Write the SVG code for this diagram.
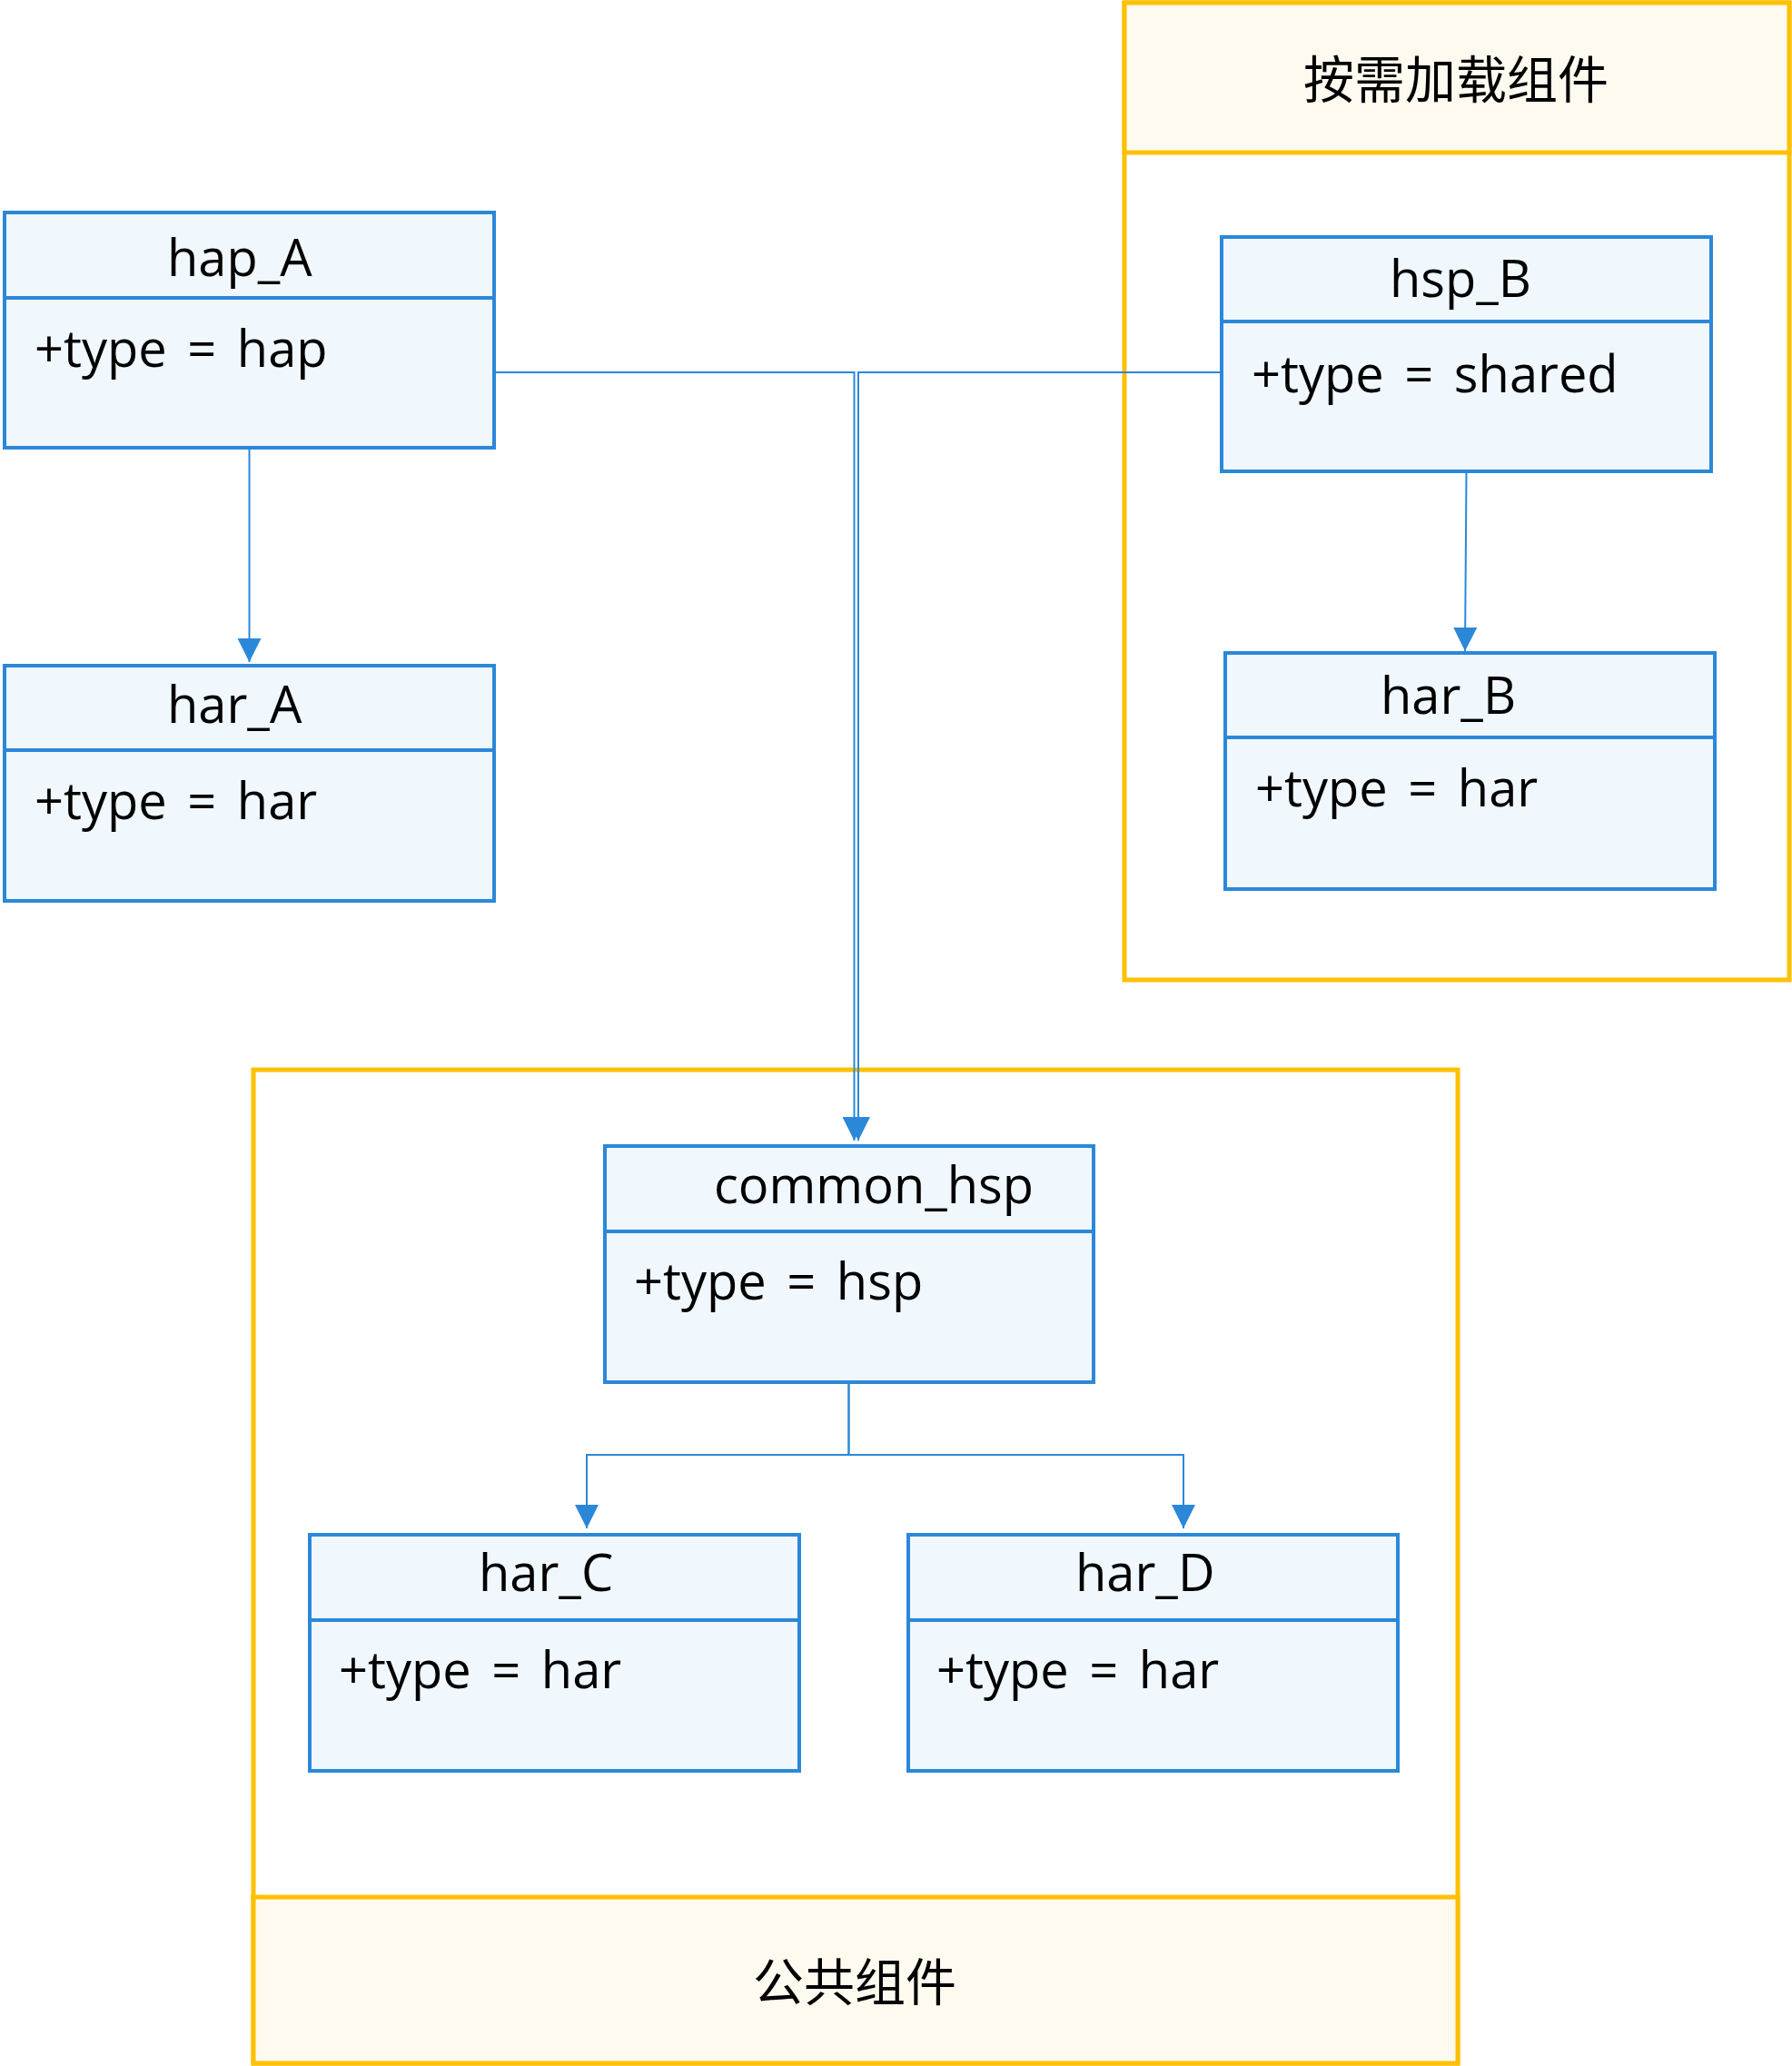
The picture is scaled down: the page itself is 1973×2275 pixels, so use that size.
<svg xmlns="http://www.w3.org/2000/svg" width="1973" height="2275" viewBox="0 0 1973 2275">
<style>
.cont{fill:#ffffff;stroke:#ffc000;stroke-width:5}
.band{fill:#fffaef;stroke:#ffc000;stroke-width:5}
.box{fill:#f0f8fe;stroke:#2b88d9;stroke-width:4}
.div{stroke:#2b88d9;stroke-width:4}
.con{fill:none;stroke:#2b88d9;stroke-width:2}
.t{font-family:"Open Sans","Noto Sans","Noto Sans CJK SC",sans-serif;font-size:56px;fill:#000}
.a{word-spacing:8px}
.cjk{font-family:"Noto Sans CJK SC","Noto Sans",sans-serif;font-size:56px;fill:#000;text-anchor:middle;dominant-baseline:central}
</style>
<defs>
<marker id="arr" markerUnits="userSpaceOnUse" markerWidth="27" markerHeight="27" refX="26" refY="13" orient="auto" viewBox="0 0 27 27">
<path d="M0,0 L26,13 L0,26 z" fill="#2b88d9"/>
</marker>
</defs>

<g id="container-ondemand">
<rect class="cont" x="1238" y="3" width="732" height="1076"/>
<rect class="band" x="1238" y="3" width="732" height="165"/>
<text class="cjk" x="1603" y="83">按需加载组件</text>
</g>

<g id="container-common">
<rect class="cont" x="279" y="1178" width="1326" height="1094"/>
<rect class="band" x="279" y="2089" width="1326" height="183"/>
<text class="cjk" x="941" y="2178">公共组件</text>
</g>

<g id="connectors">
<path class="con" d="M544,410 H940.5 V1256" marker-end="url(#arr)"/>
<path class="con" d="M1345,410 H945 V1256" marker-end="url(#arr)"/>
<path class="con" d="M274.5,493 V729" marker-end="url(#arr)"/>
<path class="con" d="M1614.5,519 L1613,717" marker-end="url(#arr)"/>
<path class="con" d="M934.5,1522 V1602 H646 V1683" marker-end="url(#arr)"/>
<path class="con" d="M934.5,1522 V1602 H1303 V1683" marker-end="url(#arr)"/>
</g>

<g id="hap_A">
<rect class="box" x="5" y="234" width="539" height="259"/>
<line class="div" x1="5" y1="328" x2="544" y2="328"/>
<text class="t" x="184" y="304">hap_A</text>
<text class="t a" x="38" y="404">+type = hap</text>
</g>

<g id="har_A">
<rect class="box" x="5" y="733" width="539" height="259"/>
<line class="div" x1="5" y1="826" x2="544" y2="826"/>
<text class="t" x="184" y="796">har_A</text>
<text class="t a" x="38" y="902">+type = har</text>
</g>

<g id="hsp_B">
<rect class="box" x="1345" y="261" width="539" height="258"/>
<line class="div" x1="1345" y1="354" x2="1884" y2="354"/>
<text class="t" x="1530" y="327">hsp_B</text>
<text class="t a" x="1378" y="432">+type = shared</text>
</g>

<g id="har_B">
<rect class="box" x="1349" y="719" width="539" height="260"/>
<line class="div" x1="1349" y1="812" x2="1888" y2="812"/>
<text class="t" x="1520" y="786">har_B</text>
<text class="t a" x="1382" y="888">+type = har</text>
</g>

<g id="common_hsp">
<rect class="box" x="666" y="1262" width="538" height="260"/>
<line class="div" x1="666" y1="1356" x2="1204" y2="1356"/>
<text class="t" x="786" y="1325">common_hsp</text>
<text class="t a" x="698" y="1431">+type = hsp</text>
</g>

<g id="har_C">
<rect class="box" x="341" y="1690" width="539" height="260"/>
<line class="div" x1="341" y1="1784" x2="880" y2="1784"/>
<text class="t" x="527" y="1752">har_C</text>
<text class="t a" x="373" y="1859">+type = har</text>
</g>

<g id="har_D">
<rect class="box" x="1000" y="1690" width="539" height="260"/>
<line class="div" x1="1000" y1="1784" x2="1539" y2="1784"/>
<text class="t" x="1184" y="1752">har_D</text>
<text class="t a" x="1031" y="1859">+type = har</text>
</g>
</svg>
